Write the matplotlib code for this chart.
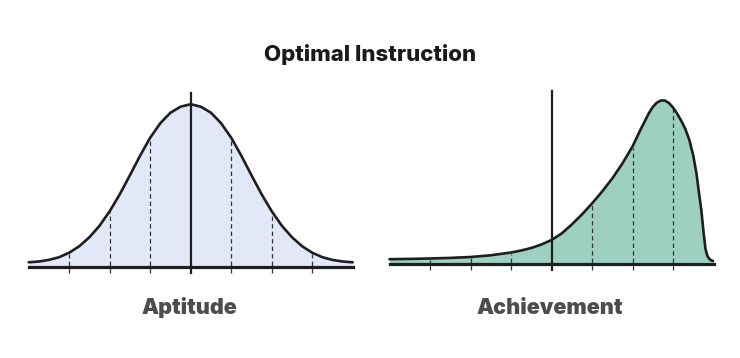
import matplotlib
matplotlib.use('Agg')
import matplotlib.pyplot as plt
import numpy as np

# Aptitude: symmetric bell curve, heights (x in SD units)
aptitude_x = [-4, -3.75, -3.5, -3.25, -3, -2.75, -2.5, -2.25, -2, -1.75, -1.5, -1.25,
              -1, -0.75, -0.5, -0.25, 0, 0.25, 0.5, 0.75, 1, 1.25, 1.5, 1.75,
              2, 2.25, 2.5, 2.75, 3, 3.25, 3.5, 3.75, 4]
aptitude_h = [4.4, 5.2, 6.8, 9.5, 14, 20.5, 29.5, 41, 55.5, 72.5, 91.5, 111,
              129, 143.5, 154, 160, 162.5, 160, 154, 143.5, 129, 111, 91.5, 72.5,
              55.5, 41, 29.5, 20.5, 14, 9.5, 6.8, 5.2, 4.4]

# Achievement: negatively skewed curve
achievement_x = [-4, -3.5, -3, -2.5, -2, -1.5, -1, -0.75, -0.5, -0.25, 0, 0.25,
                 0.5, 0.75, 1, 1.25, 1.5, 1.75, 2, 2.2, 2.4, 2.5, 2.6, 2.7,
                 2.8, 2.9, 3.0, 3.1, 3.2, 3.3, 3.4, 3.5, 3.58, 3.65, 3.7, 3.75,
                 3.8, 3.85, 3.9, 3.95, 3.99]
achievement_h = [4.3, 4.6, 5.0, 5.6, 6.5, 8.2, 11, 13, 15.5, 19, 23.5, 30,
                 39, 49, 60, 72, 85, 100, 117, 134, 150, 156.5, 160.8, 163,
                 163, 160.5, 156, 150, 143, 135, 124, 108, 90, 68, 53, 33,
                 15, 7.5, 4.5, 3, 2.5]

marks = [-3, -2, -1, 1, 2, 3]
labels = ['Aptitude', 'Achievement']
title = 'Optimal Instruction'

W, H = 740, 358
fig = plt.figure(figsize=(W / 100, H / 100), dpi=100)

UNIT = 40.5  # pixels per SD
FONT = ['Inter', 'DejaVu Sans']


def panel(cx, base_y, xs, hs, fill, top):
    # axes with 1 px per y unit, UNIT px per x unit
    x0, x1 = -4.1, 4.1
    y0, y1 = -12, 180
    left = cx - (0 - x0) * UNIT
    bottom = (H - base_y) + y0
    ax = fig.add_axes([left / W, bottom / H, (x1 - x0) * UNIT / W, (y1 - y0) / H])
    ax.set_xlim(x0, x1)
    ax.set_ylim(y0, y1)
    ax.axis('off')
    ax.fill_between(xs, 0, hs, color=fill, lw=0, zorder=1)
    for m in marks:
        h = np.interp(m, xs, hs)
        ax.plot([m, m], [-6, h - 1], color='#333333', lw=0.9, ls=(0, (3.5, 2.5)), zorder=2)
    ax.plot(xs, hs, color='#1e1e1e', lw=1.9, solid_joinstyle='round',
            solid_capstyle='round', zorder=3)
    ax.plot([-4, 4], [0, 0], color='#1e1e1e', lw=2.3, zorder=4)
    ax.plot([0, 0], [-6, top], color='#1e1e1e', lw=1.6, zorder=5)
    return ax


panel(190.7, 266.7, aptitude_x, aptitude_h, '#e3e8f9', 174)
panel(551.5, 263.5, achievement_x, achievement_h, '#9dd0c1', 172.5)

fig.text(370 / W, 1 - 61 / H, title, ha='center', va='baseline', fontsize=16,
         family=FONT, weight='heavy', color='#1a1a1a')
fig.text(189 / W, 1 - 314 / H, labels[0], ha='center', va='baseline', fontsize=15.5,
         family=FONT, weight='black', color='#4d4d4d')
fig.text(550 / W, 1 - 314 / H, labels[1], ha='center', va='baseline', fontsize=15.5,
         family=FONT, weight='black', color='#4d4d4d')

fig.savefig('out.png', dpi=100, facecolor='white')
